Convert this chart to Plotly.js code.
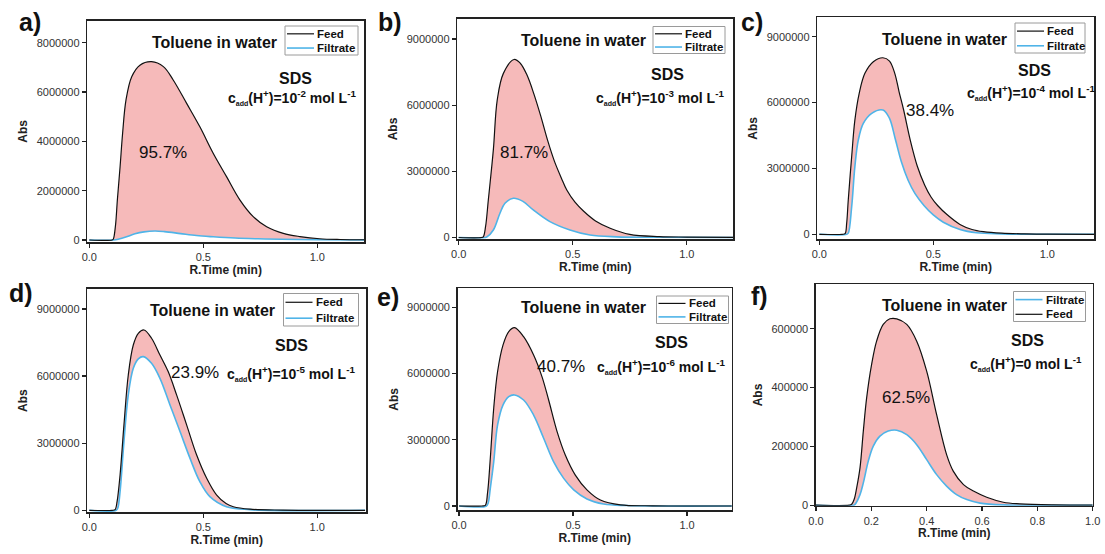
<!DOCTYPE html>
<html>
<head>
<meta charset="utf-8">
<script src="https://cdn.plot.ly/plotly-3.0.1.min.js"></script>
<style>html,body{margin:0;padding:0;background:#fff;}#chart{width:1105px;height:554px;}</style>
</head>
<body>
<div id="chart"></div>
<script>
// ---------------- DATA ----------------
const panelLabels = ['a)', 'b)', 'c)', 'd)', 'e)', 'f)'];
const percentLabels = ['95.7%', '81.7%', '38.4%', '23.9%', '40.7%', '62.5%'];
const acidConc = ['10<sup>-2</sup>', '10<sup>-3</sup>', '10<sup>-4</sup>', '10<sup>-5</sup>', '10<sup>-6</sup>', '0'];
const seriesNames = ['Feed', 'Filtrate'];

// Panel a (Abs in millions)
const tFeedA = [0, 0.1, 0.105, 0.115, 0.123, 0.135, 0.146, 0.161, 0.186, 0.222, 0.273, 0.325, 0.368, 0.427, 0.485, 0.544, 0.602, 0.661, 0.719, 0.778, 0.851, 0.924, 1.01, 1.1, 1.21];
const feedA  = [0, 0, 0.03, 0.6, 1.62, 2.97, 4.32, 5.68, 6.62, 7.09, 7.23, 7.03, 6.49, 5.54, 4.59, 3.51, 2.57, 1.62, 0.95, 0.54, 0.27, 0.14, 0.05, 0.02, 0.01];
const tFiltA = [0, 0.105, 0.13, 0.16, 0.2, 0.24, 0.288, 0.33, 0.4, 0.47, 0.544, 0.64, 0.74, 0.84, 1.0, 1.21];
const filtA  = [0, 0, 0.04, 0.12, 0.25, 0.33, 0.365, 0.34, 0.26, 0.18, 0.13, 0.08, 0.05, 0.03, 0.01, 0];

// Panel b
const tFeedB = [0, 0.1, 0.108, 0.118, 0.13, 0.152, 0.169, 0.196, 0.243, 0.27, 0.3, 0.33, 0.36, 0.39, 0.42, 0.45, 0.474, 0.51, 0.547, 0.6, 0.664, 0.75, 0.88, 1.0, 1.21];
const feedB  = [0, 0, 0.03, 0.5, 1.7, 3.97, 6.23, 7.44, 8.07, 7.9, 7.35, 6.5, 5.5, 4.4, 3.45, 2.7, 2.15, 1.6, 1.2, 0.75, 0.42, 0.14, 0.04, 0.02, 0.01];
const tFiltB = [0, 0.115, 0.123, 0.152, 0.181, 0.203, 0.24, 0.28, 0.327, 0.4, 0.488, 0.576, 0.693, 0.85, 1.21];
const filtB  = [0, 0, 0.02, 0.34, 1.1, 1.55, 1.78, 1.65, 1.25, 0.72, 0.34, 0.11, 0.03, 0.01, 0];

// Panel c
const tFeedC = [0, 0.1, 0.113, 0.12, 0.127, 0.142, 0.156, 0.175, 0.2, 0.237, 0.279, 0.308, 0.331, 0.35, 0.37, 0.399, 0.43, 0.462, 0.49, 0.52, 0.56, 0.617, 0.67, 0.72, 0.8, 0.9, 1.0, 1.21];
const feedC  = [0, 0, 0.03, 0.5, 1.56, 3.54, 5.2, 6.42, 7.33, 7.86, 8.04, 7.89, 7.33, 6.49, 5.66, 4.29, 3.1, 2.25, 1.7, 1.3, 0.9, 0.45, 0.22, 0.12, 0.05, 0.02, 0.01, 0];
const tFiltC = [0, 0.12, 0.127, 0.142, 0.156, 0.171, 0.193, 0.23, 0.279, 0.307, 0.333, 0.36, 0.39, 0.42, 0.46, 0.5, 0.544, 0.617, 0.69, 0.8, 1.21];
const filtC  = [0, 0, 0.05, 1.26, 3.08, 4.29, 5.05, 5.51, 5.66, 5.3, 4.35, 3.3, 2.45, 1.85, 1.3, 0.88, 0.55, 0.22, 0.07, 0.02, 0];

// Panel d
const tFeedD = [0, 0.1, 0.113, 0.122, 0.135, 0.152, 0.171, 0.193, 0.215, 0.24, 0.273, 0.31, 0.346, 0.383, 0.427, 0.471, 0.515, 0.558, 0.6, 0.632, 0.705, 0.85, 1.21];
const feedD  = [0, 0, 0.03, 0.4, 1.58, 3.82, 6.05, 7.39, 7.91, 8.06, 7.69, 6.94, 6.2, 5.16, 3.82, 2.47, 1.43, 0.69, 0.3, 0.16, 0.05, 0.01, 0];
const tFiltD = [0, 0.118, 0.125, 0.135, 0.152, 0.171, 0.193, 0.215, 0.237, 0.273, 0.31, 0.354, 0.398, 0.442, 0.485, 0.529, 0.602, 0.705, 1.21];
const filtD  = [0, 0, 0.1, 0.83, 3.07, 5.16, 6.35, 6.77, 6.87, 6.57, 5.9, 4.71, 3.52, 2.32, 1.28, 0.61, 0.16, 0.03, 0];

// Panel e
const tFeedE = [0, 0.1, 0.115, 0.125, 0.137, 0.152, 0.169, 0.193, 0.218, 0.243, 0.283, 0.327, 0.364, 0.393, 0.43, 0.466, 0.51, 0.561, 0.62, 0.708, 0.85, 1.21];
const feedE  = [0, 0, 0.03, 0.6, 2.16, 4.43, 6.09, 7.3, 7.9, 8.08, 7.67, 6.84, 5.85, 4.8, 3.37, 2.31, 1.4, 0.73, 0.27, 0.05, 0.01, 0];
const tFiltE = [0, 0.12, 0.128, 0.137, 0.152, 0.169, 0.193, 0.218, 0.243, 0.283, 0.327, 0.371, 0.415, 0.459, 0.503, 0.561, 0.634, 0.737, 1.21];
const filtE  = [0, 0, 0.15, 0.8, 2.0, 3.67, 4.58, 4.95, 5.03, 4.8, 4.12, 3.07, 2.0, 1.25, 0.73, 0.32, 0.09, 0.02, 0];

// Panel f (Abs in thousands)
const tFeedF = [0, 0.12, 0.129, 0.138, 0.147, 0.159, 0.171, 0.183, 0.201, 0.219, 0.243, 0.267, 0.292, 0.328, 0.364, 0.4, 0.436, 0.472, 0.496, 0.533, 0.569, 0.617, 0.677, 0.737, 0.858, 1.0];
const feedF  = [0, 0, 3, 20, 59, 127, 252, 365, 479, 558, 615, 634, 634, 615, 558, 456, 308, 172, 116, 70, 48, 27, 10, 4.5, 1, 0];
const tFiltF = [0, 0.135, 0.141, 0.159, 0.171, 0.189, 0.207, 0.231, 0.261, 0.292, 0.328, 0.364, 0.4, 0.436, 0.472, 0.508, 0.545, 0.593, 0.677, 1.0];
const filtF  = [0, 0, 3, 36, 76, 150, 201, 235, 252, 255, 240, 206, 155, 104, 65, 36, 19, 7, 1, 0];

// ---------------- STYLE / LAYOUT ----------------
const W = 1105, H = 554;
const FONT = 'Liberation Sans, Arial, Helvetica, sans-serif';
const BLACK = '#111111', BLUE = '#4fb4e8', PINK = '#f6baba';

const panels = [
  {tf: tFeedA, f: feedA, tb: tFiltA, b: filtA, scale: 1e6, box: [87.3, 20.7, 364, 242], zero: 240, ppu: 24.66e-6, xr: [-0.0088, 1.205], dx: 0.5, dy: 2e6,
   lab: [30, 22], tol: [214, 43], sds: [295, 78], cadd: [292, 97], pct: [163, 152], leg: [285, 26, 358, 55], feedFirst: true},
  {tf: tFeedB, f: feedB, tb: tFiltB, b: filtB, scale: 1e6, box: [457.3, 19, 733.3, 239], zero: 237.5, ppu: 22.06e-6, xr: [-0.006, 1.204], dx: 0.5, dy: 3e6,
   lab: [390, 22], tol: [583, 41], sds: [667, 74], cadd: [660, 98], pct: [524, 152], leg: [653, 26.5, 725, 53.5], feedFirst: true},
  {tf: tFeedC, f: feedC, tb: tFiltC, b: filtC, scale: 1e6, box: [817.3, 17.3, 1094, 239.3], zero: 234.3, ppu: 21.96e-6, xr: [-0.0088, 1.205], dx: 0.5, dy: 3e6,
   lab: [752, 22], tol: [944, 39], sds: [1034, 70], cadd: [1031, 93], pct: [930, 111], leg: [1015, 23, 1085, 53], feedFirst: true},
  {tf: tFeedD, f: feedD, tb: tFiltD, b: filtD, scale: 1e6, box: [87.3, 289, 366, 512.3], zero: 510.3, ppu: 22.37e-6, xr: [-0.0088, 1.214], dx: 0.5, dy: 3e6,
   lab: [21, 293], tol: [212, 310], sds: [291, 345], cadd: [291, 373], pct: [195, 372], leg: [283.5, 293.5, 358.5, 326], feedFirst: true},
  {tf: tFeedE, f: feedE, tb: tFiltE, b: filtE, scale: 1e6, box: [457.7, 288.3, 731.7, 510.3], zero: 506, ppu: 22.08e-6, xr: [-0.006, 1.196], dx: 0.5, dy: 3e6,
   lab: [388, 297], tol: [583, 307], sds: [671, 342], cadd: [661, 366], pct: [561, 366], leg: [656.5, 296, 728.5, 323.5], feedFirst: true},
  {tf: tFeedF, f: feedF, tb: tFiltF, b: filtF, scale: 1e3, box: [816, 284.3, 1092.7, 505.7], zero: 505.2, ppu: 0.294e-3, xr: [0, 1.0], dx: 0.2, dy: 2e5,
   lab: [759, 296], tol: [944, 305], sds: [1027, 340], cadd: [1026, 363], pct: [906, 397], leg: [1013.5, 291.5, 1085.5, 321.5], feedFirst: false}
];

const px = (x) => x / W;
const py = (y) => 1 - y / H;

const traces = [];
const layout = {
  width: W, height: H,
  margin: {l: 0, r: 0, t: 0, b: 0},
  paper_bgcolor: '#ffffff', plot_bgcolor: '#ffffff',
  font: {family: FONT, color: '#222'},
  showlegend: false,
  annotations: [],
  shapes: []
};

panels.forEach((p, i) => {
  const n = i + 1;
  const xa = n === 1 ? 'x' : 'x' + n;
  const ya = n === 1 ? 'y' : 'y' + n;
  const xk = n === 1 ? 'xaxis' : 'xaxis' + n;
  const yk = n === 1 ? 'yaxis' : 'yaxis' + n;
  const feedY = p.f.map(v => v * p.scale);
  const filtY = p.b.map(v => v * p.scale);

  // base for fill (filtrate)
  traces.push({x: p.tb, y: filtY, xaxis: xa, yaxis: ya, mode: 'lines', hoverinfo: 'skip',
    line: {color: BLUE, width: 0, shape: 'spline', smoothing: 1}});
  // fill between feed and filtrate
  traces.push({x: p.tf, y: feedY, xaxis: xa, yaxis: ya, mode: 'lines', hoverinfo: 'skip',
    fill: 'tonexty', fillcolor: PINK, line: {color: PINK, width: 0, shape: 'spline', smoothing: 1}});
  // visible lines
  traces.push({x: p.tb, y: filtY, xaxis: xa, yaxis: ya, mode: 'lines', name: seriesNames[1],
    line: {color: BLUE, width: 1.6, shape: 'spline', smoothing: 1}});
  traces.push({x: p.tf, y: feedY, xaxis: xa, yaxis: ya, mode: 'lines', name: seriesNames[0],
    line: {color: BLACK, width: 1.2, shape: 'spline', smoothing: 1}});

  const [x0, y0, x1, y1] = p.box;
  const ylo = -(y1 - p.zero) / p.ppu;
  const yhi = (p.zero - y0) / p.ppu;
  const common = {showline: true, linecolor: '#222', linewidth: 1.6, mirror: true, ticks: 'outside', ticklen: 4,
    tickwidth: 1.2, tickcolor: '#222', showgrid: false, zeroline: false,
    tickfont: {family: FONT, size: 11, color: '#333'}};
  layout[xk] = Object.assign({}, common, {domain: [px(x0), px(x1)], anchor: ya, range: p.xr, dtick: p.dx, tick0: 0,
    tickformat: '.1f', title: {text: 'R.Time (min)', font: {family: FONT, size: 12, color: '#222', weight: 'bold'}, standoff: 2}});
  layout[yk] = Object.assign({}, common, {domain: [py(y1), py(y0)], anchor: xa, range: [ylo, yhi], dtick: p.dy, tick0: 0,
    tickformat: 'd', title: {text: 'Abs', font: {family: FONT, size: 12, color: '#222', weight: 'bold'}, standoff: 6}});

  const ann = (xy, text, size, weight, anchor) => ({x: px(xy[0]), y: py(xy[1]), xref: 'paper', yref: 'paper', text: text,
    showarrow: false, xanchor: anchor || 'center', yanchor: 'middle', font: {family: FONT, size: size, color: '#111', weight: weight}});
  layout.annotations.push(ann(p.lab, panelLabels[i], 25, 'bold'));
  layout.annotations.push(ann(p.tol, 'Toluene in water', 16, 'bold'));
  layout.annotations.push(ann(p.sds, 'SDS', 16, 'bold'));
  layout.annotations.push(ann(p.cadd, 'c<sub><span style="font-size:7px">add</span></sub>(H<sup>+</sup>)=' + acidConc[i] + ' mol L<sup>-1</sup>', 14, 'bold'));
  layout.annotations.push(ann(p.pct, percentLabels[i], 17, 'normal'));

  // legend box (drawn per panel, like the reference's inset legends)
  const [lx0, ly0, lx1, ly1] = p.leg;
  const lh = ly1 - ly0;
  layout.shapes.push({type: 'rect', xref: 'paper', yref: 'paper', x0: px(lx0), x1: px(lx1), y0: py(ly1), y1: py(ly0),
    line: {color: '#9a9a9a', width: 1}, fillcolor: '#ffffff', layer: 'above'});
  const items = p.feedFirst ? [[seriesNames[0], BLACK, 1.2], [seriesNames[1], BLUE, 1.6]]
                            : [[seriesNames[1], BLUE, 1.6], [seriesNames[0], BLACK, 1.2]];
  items.forEach((it, k) => {
    const yy = ly0 + lh * (k === 0 ? 0.27 : 0.76);
    layout.shapes.push({type: 'line', xref: 'paper', yref: 'paper', x0: px(lx0 + 2), x1: px(lx0 + 29), y0: py(yy), y1: py(yy),
      line: {color: it[1], width: it[2]}, layer: 'above'});
    layout.annotations.push(ann([lx0 + 30, yy], it[0], 11.5, 'bold', 'left'));
  });
});

Plotly.newPlot('chart', traces, layout, {displayModeBar: false, staticPlot: true});
</script>
</body>
</html>
